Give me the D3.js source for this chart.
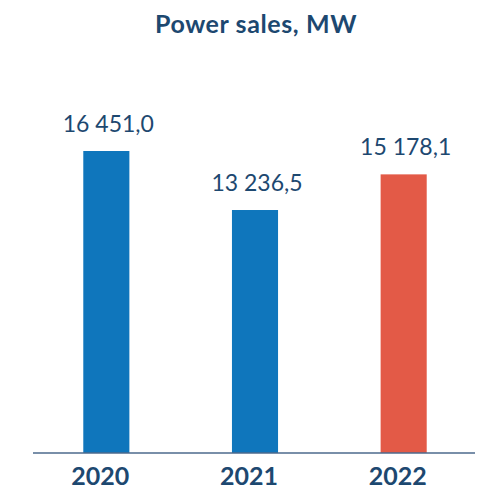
<!DOCTYPE html>
<html>
<head>
<meta charset="utf-8">
<script src="https://cdn.jsdelivr.net/npm/d3@7"></script>
<style>
  html, body { margin: 0; padding: 0; background: #ffffff; }
  svg { display: block; }
</style>
</head>
<body>
<svg id="chart" width="477" height="495"></svg>
<script>
// Power sales by year, MW
const years = ["2020", "2021", "2022"];
const sales = [16451.0, 13236.5, 15178.1];
const valueLabels = ["16 451,0", "13 236,5", "15 178,1"];
const barColors = ["#0f76bc", "#0f76bc", "#e35a47"];
const title = "Power sales, MW";

const width = 477, height = 495;
const baseline = 453;
const textColor = "#1d4870";

const svg = d3.select("#chart");

const x = d3.scaleBand()
  .domain(years)
  .range([32, 478])
  .paddingInner(0.69)
  .paddingOuter(0.345);

const y = d3.scaleLinear()
  .domain([0, 16451.0])
  .range([baseline, 151]);

// Title
svg.append("text")
  .attr("x", 256)
  .attr("y", 33)
  .attr("text-anchor", "middle")
  .attr("font-family", "Lato, 'Open Sans', sans-serif")
  .attr("font-weight", 700)
  .attr("font-size", 25)
  .attr("letter-spacing", 0.6)
  .attr("fill", textColor)
  .text(title);

// Bars
svg.append("g")
  .selectAll("rect")
  .data(years)
  .join("rect")
  .attr("x", d => x(d))
  .attr("width", x.bandwidth())
  .attr("y", (d, i) => y(sales[i]))
  .attr("height", (d, i) => baseline - y(sales[i]))
  .attr("fill", (d, i) => barColors[i]);

// Value labels above bars
svg.append("g")
  .selectAll("text")
  .data(years)
  .join("text")
  .attr("x", d => x(d) + x.bandwidth() / 2 + 2)
  .attr("y", (d, i) => y(sales[i]) - 19)
  .attr("text-anchor", "middle")
  .attr("font-family", "Lato, 'Open Sans', sans-serif")
  .attr("font-weight", 400)
  .attr("font-size", 23)
  .attr("fill", textColor)
  .text((d, i) => valueLabels[i]);

// Baseline axis with year labels
const axis = d3.axisBottom(x).tickSize(0).tickPadding(0);
const gAxis = svg.append("g")
  .attr("transform", `translate(0,${baseline})`)
  .call(axis);
gAxis.select(".domain")
  .attr("d", "M33,0H475")
  .attr("stroke", "#4d6a8c")
  .attr("stroke-width", 1.6);
gAxis.selectAll(".tick text")
  .attr("dx", -6)
  .attr("y", 32)
  .attr("dy", 0)
  .attr("font-family", "Lato, 'Open Sans', sans-serif")
  .attr("font-weight", 700)
  .attr("font-size", 25)
  .attr("fill", textColor);
</script>
</body>
</html>
